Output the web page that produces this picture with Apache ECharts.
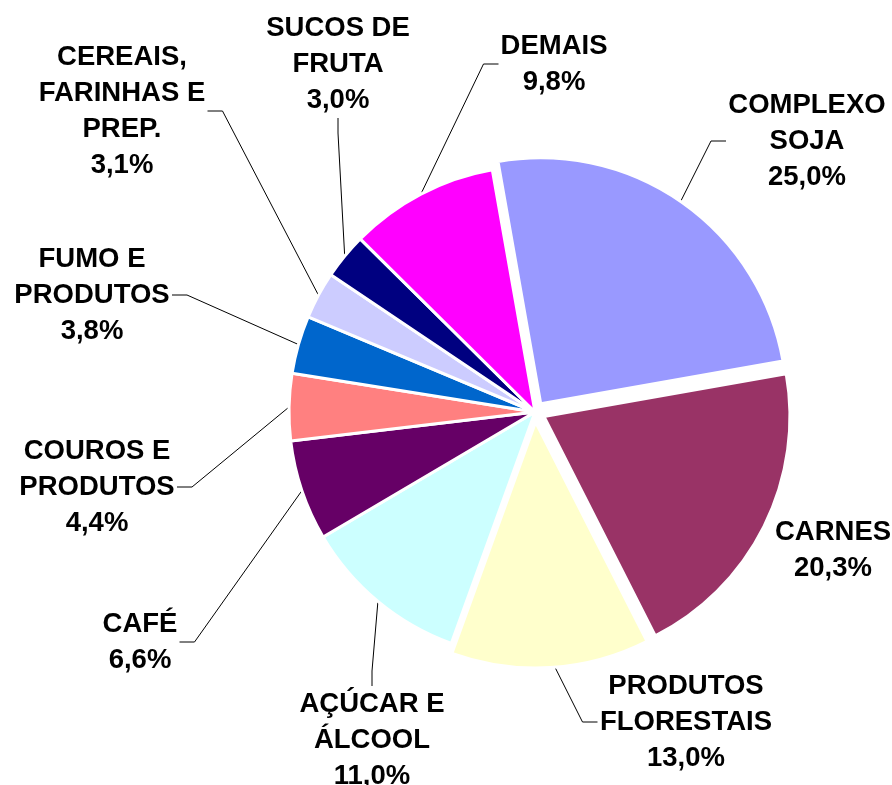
<!DOCTYPE html>
<html>
<head>
<meta charset="utf-8">
<script src="https://cdn.jsdelivr.net/npm/echarts@6/dist/echarts.min.js"></script>
<style>
  html, body { margin: 0; padding: 0; background: #fff; }
  #chart { width: 892px; height: 785px; }
</style>
</head>
<body>
<div id="chart"></div>
<script>
// categories, clockwise from the top
const categories = [
  'COMPLEXO\nSOJA',
  'CARNES',
  'PRODUTOS\nFLORESTAIS',
  'AÇÚCAR E\nÁLCOOL',
  'CAFÉ',
  'COUROS E\nPRODUTOS',
  'FUMO E\nPRODUTOS',
  'CEREAIS,\nFARINHAS E\nPREP.',
  'SUCOS DE\nFRUTA',
  'DEMAIS'
];
const shares = [25.0, 20.3, 13.0, 11.0, 6.6, 4.4, 3.8, 3.1, 3.0, 9.8];

const colors = ['#9999ff', '#993366', '#ffffcc', '#ccffff', '#660066',
                '#ff8080', '#0066cc', '#ccccff', '#000080', '#ff00ff'];
// slices pulled out of the pie
const exploded = ['COMPLEXO\nSOJA', 'CARNES', 'PRODUTOS\nFLORESTAIS'];
// label block centres (layout only)
const labelPos = [
  [807, 141], [833, 550], [686, 722], [372, 740], [140, 642],
  [97, 487], [92, 295], [122, 111], [338, 64], [554, 64]
];

const FONT_SIZE = 27.5;
const FONT_FAMILY = 'Liberation Sans, Arial, sans-serif';

const fmt = v => v.toFixed(1).replace('.', ',') + '%';
const labelText = i => categories[i] + '\n' + fmt(shares[i]);

// widest line of a label, so the leader line meets the text itself
const ctx = document.createElement('canvas').getContext('2d');
ctx.font = 'bold ' + FONT_SIZE + 'px ' + FONT_FAMILY;
const textWidth = s => Math.ceil(Math.max(...s.split('\n').map(l => ctx.measureText(l).width))) + 4;

const chart = echarts.init(document.getElementById('chart'));

const common = {
  type: 'pie',
  center: [535, 412],
  radius: 246,
  startAngle: 100,
  clockwise: true,
  emphasis: { disabled: true }
};

chart.setOption({
  animation: false,
  series: [
    // the slices
    Object.assign({}, common, {
      selectedMode: 'multiple',
      selectedOffset: 10,
      itemStyle: { borderColor: '#fff', borderWidth: 3 },
      label: { show: false },
      labelLine: { show: false },
      data: categories.map((c, i) => ({
        name: c,
        value: shares[i],
        selected: exploded.includes(c),
        itemStyle: { color: colors[i] }
      }))
    }),
    // labels and leader lines (invisible slices)
    Object.assign({}, common, {
      silent: true,
      itemStyle: { color: 'rgba(0,0,0,0)', borderWidth: 0 },
      label: {
        show: true,
        position: 'outside',
        color: '#000',
        fontFamily: FONT_FAMILY,
        fontWeight: 'bold',
        fontSize: FONT_SIZE,
        lineHeight: 36,
        overflow: 'none',
        formatter: p => labelText(p.dataIndex)
      },
      labelLine: {
        show: true,
        length: 15,
        length2: 15,
        lineStyle: { color: '#000', width: 1 }
      },
      labelLayout: p => ({
        x: labelPos[p.dataIndex][0],
        y: labelPos[p.dataIndex][1],
        align: 'center',
        verticalAlign: 'middle'
      }),
      data: categories.map((c, i) => ({
        name: c,
        value: shares[i],
        label: { width: textWidth(labelText(i)) },
        labelLine: { show: c !== 'CARNES' }
      }))
    })
  ]
});
</script>
</body>
</html>
